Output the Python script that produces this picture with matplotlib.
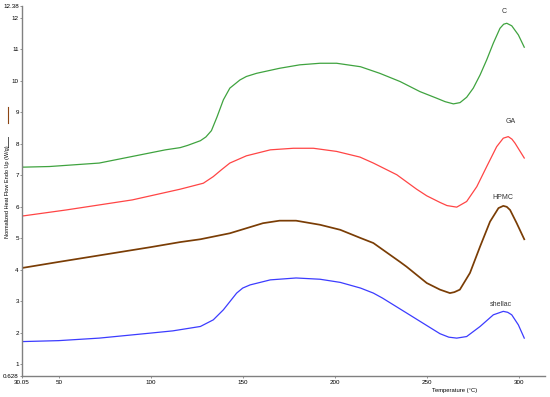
import matplotlib
matplotlib.use('Agg')
import matplotlib.pyplot as plt
from matplotlib.lines import Line2D

plt.rcParams['font.family'] = ['Liberation Sans', 'DejaVu Sans']

# C (green)
t_c = [30.05, 30.15, 30.3, 30.5, 45, 72, 90, 108, 116, 120, 127, 130, 133, 136, 139.5, 143, 148.5, 152,
       157.5, 170, 181, 192, 201, 214, 224.5, 235.5, 246.3, 255.4, 260, 264.5, 268.1, 271.7, 275.3,
       279, 282.6, 286.2, 289.8, 291.8, 293.5, 296.2, 299.8, 303]
v_c = [7.1, 7.45, 7.27, 7.26, 7.28, 7.39, 7.6, 7.81, 7.88, 7.95, 8.1, 8.22, 8.42, 8.85, 9.4, 9.77, 10.03, 10.14,
       10.24, 10.4, 10.51, 10.56, 10.56, 10.45, 10.24, 9.98, 9.66, 9.45, 9.34, 9.27, 9.31, 9.48, 9.77,
       10.19, 10.67, 11.2, 11.67, 11.8, 11.83, 11.75, 11.46, 11.07]

# GA (red)
t_ga = [30.05, 30.15, 30.3, 30.5, 54, 90, 116, 128.6, 134, 138.5, 143, 152, 165, 177.5, 188.4, 201,
        213.7, 221, 233.7, 244.5, 250, 257.2, 261, 266.3, 271.7, 277.2, 282.6, 288, 291.6, 294.3,
        296.3, 298, 303]
v_ga = [5.5, 5.82, 5.71, 5.71, 5.9, 6.22, 6.56, 6.75, 6.96, 7.18, 7.39, 7.62, 7.81, 7.86, 7.86, 7.76,
        7.58, 7.39, 7.02, 6.56, 6.35, 6.14, 6.04, 5.99, 6.17, 6.64, 7.28, 7.91, 8.18, 8.23, 8.15, 8.02, 7.55]

# HPMC (brown)
t_h = [30.05, 30.15, 30.3, 50, 100, 116, 127, 143, 152, 161, 170, 179, 192, 203, 214, 221, 235.5, 239,
       250, 257.2, 262.6, 265, 268, 273.5, 279, 284.4, 289, 291.6, 293.5, 295.3, 298.9, 303]
v_h = [3.75, 4.1, 4.06, 4.25, 4.72, 4.88, 4.97, 5.16, 5.32, 5.48, 5.56, 5.56, 5.43, 5.27, 5.01, 4.85, 4.25, 4.10,
       3.58, 3.37, 3.26, 3.29, 3.37, 3.9, 4.74, 5.53, 5.96, 6.03, 6.0, 5.9, 5.48, 4.97]

# shellac (blue)
t_s = [30.05, 30.15, 30.3, 50, 72, 100, 112, 127, 134, 139.5, 146.7, 150, 154, 165, 179, 192, 203, 214, 221,
       226, 239, 253.6, 257.2, 262, 266.3, 271.7, 279, 286.2, 291.6, 294, 296.2, 299.8, 303]
v_s = [1.1, 1.9, 1.72, 1.75, 1.83, 1.99, 2.06, 2.2, 2.41, 2.73, 3.26, 3.42, 3.52, 3.68, 3.74, 3.70, 3.60, 3.42, 3.26,
       3.1, 2.63, 2.1, 1.97, 1.86, 1.83, 1.88, 2.2, 2.57, 2.68, 2.65, 2.57, 2.25, 1.83]

xticks = [30.05, 50, 100, 150, 200, 250, 300]
xticklabels = ['30.05', '50', '100', '150', '200', '250', '300']
yticks = [0.628, 1, 2, 3, 4, 5, 6, 7, 8, 9, 10, 11, 12, 12.38]
yticklabels = ['0.628', '1', '2', '3', '4', '5', '6', '7', '8', '9', '10', '11', '12', '12.38']

fig = plt.figure(figsize=(5.5, 3.97), dpi=100)
ax = fig.add_axes([0.04, 0.053, 0.951, 0.932])

ax.plot(t_c, v_c, color='#3fa33f', lw=0.9)
ax.plot(t_ga, v_ga, color='#ff4545', lw=0.9)
ax.plot(t_h, v_h, color='#7a3d05', lw=1.25)
ax.plot(t_s, v_s, color='#3c3cff', lw=0.9)

# curve labels
ax.text(292.2, 12.2, 'C', fontsize=5, ha='center', va='center', color='#333333')
ax.text(295.8, 8.71, 'GA', fontsize=5, ha='center', va='center', color='#333333')
ax.text(291.6, 6.31, 'HPMC', fontsize=5, ha='center', va='center', color='#333333')
ax.text(290.4, 2.91, 'shellac', fontsize=5, ha='center', va='center', color='#333333')

ax.set_xlim(30.05, 314.3)
ax.set_ylim(0.628, 12.38)
ax.set_xticks(xticks)
ax.set_xticklabels(xticklabels)
ax.set_yticks(yticks)
ax.set_yticklabels(yticklabels)
ax.tick_params(axis='both', labelsize=4.5, length=1.5, width=0.6, color='#808080', pad=1.5)
ax.tick_params(axis='y', pad=0.8)

for s in ['top', 'right']:
    ax.spines[s].set_visible(False)
for s in ['left', 'bottom']:
    ax.spines[s].set_color('#808080')
    ax.spines[s].set_linewidth(1.0)

fig.text(455 / 550, 1 - 390.5 / 397, 'Temperature (\u00b0C)', fontsize=4.2, ha='center', va='center')
fig.text(7.5 / 550, 1 - 192 / 397, 'Normalized Heat Flow Endo Up (W/g)', fontsize=4,
         rotation=90, ha='center', va='center')
# small line marks next to the y label
fig.add_artist(Line2D([8 / 550, 8 / 550], [1 - 147 / 397, 1 - 137 / 397], color='#555555', lw=0.7))
fig.add_artist(Line2D([7.5 / 550, 7.5 / 550], [1 - 123 / 397, 1 - 107 / 397], color='#8b4513', lw=0.8))

fig.savefig('out.png', dpi=100)
